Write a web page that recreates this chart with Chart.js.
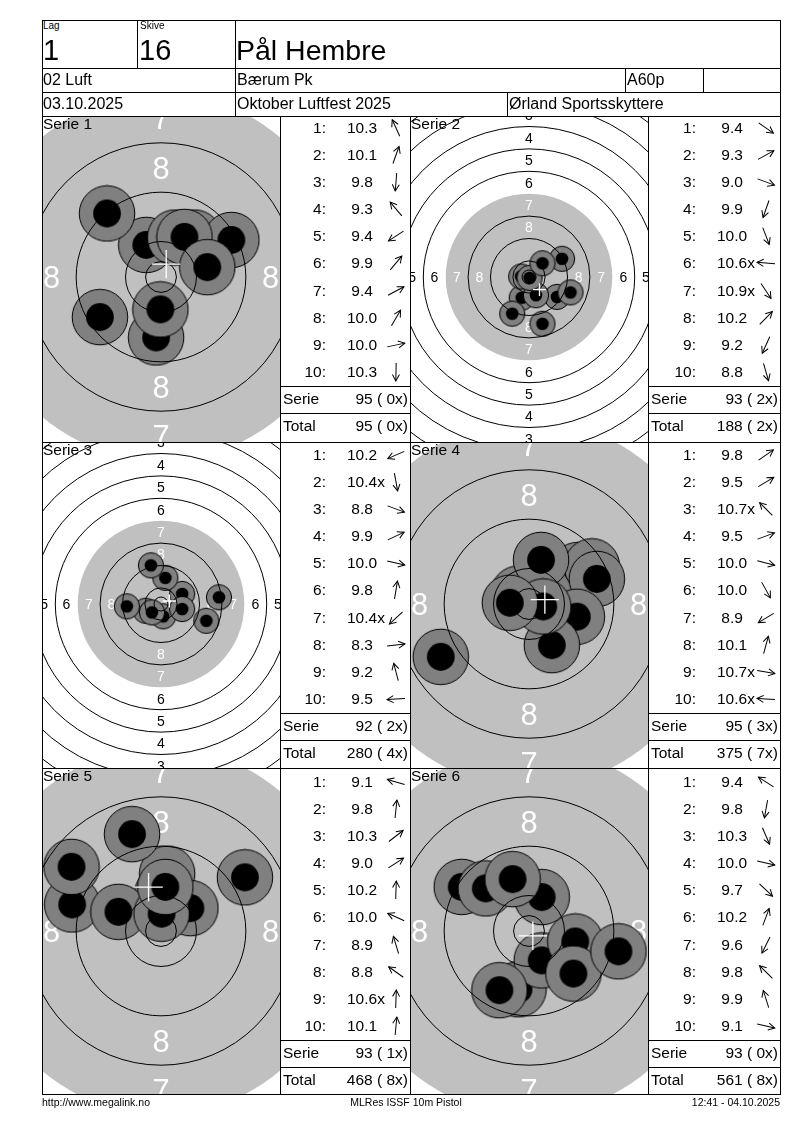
<!DOCTYPE html>
<html><head><meta charset="utf-8">
<script src="https://cdn.jsdelivr.net/npm/chart.js@4.4.1/dist/chart.umd.min.js"></script>
<style>
html,body{margin:0;padding:0;background:#fff;}
body{width:800px;height:1130px;position:relative;overflow:hidden;font-family:"Liberation Sans",Arial,sans-serif;color:#000;}
.hl{position:absolute;height:1px;background:#000;z-index:5;}
.vl{position:absolute;width:1px;background:#000;z-index:5;}
.t{position:absolute;white-space:pre;z-index:6;}
canvas{position:absolute;z-index:1;}
svg{position:absolute;z-index:6;overflow:visible;}
</style></head><body>
<script>
// ---------------- DATA ----------------
const lagLabel = 'Lag', lagValue = '1';
const skiveLabel = 'Skive', skiveValue = '16';
const shooterName = 'Pål Hembre';
const headerRow2 = ['02 Luft', 'Bærum Pk', 'A60p', ''];
const headerRow3 = ['03.10.2025', 'Oktober Luftfest 2025', 'Ørland Sportsskyttere'];
const footerTexts = ['http://www.megalink.no', 'MLRes ISSF 10m Pistol', '12:41 - 04.10.2025'];

const serieNames = ['Serie 1', 'Serie 2', 'Serie 3', 'Serie 4', 'Serie 5', 'Serie 6'];

// shot positions in mm from target centre (x right, y up)
const serie1X = [-2.4, 2.3, -0.8, -8.75, -9.9, 5.4, 11.4, 3.8, 7.5, -0.1];
const serie1Y = [5.2, 6.4, -9.8, 10.3, -6.5, 6.4, 6.0, 6.5, 1.6, -5.25];
const serie2X = [10.0, 11.8, 14.8, -2.6, 2.5, -2.8, 0.2, 4.8, -6.0, 4.8];
const serie2Y = [-7.1, 6.5, -5.5, -7.4, -6.5, 0.2, -0.3, 4.9, -13.1, -16.7];
const serie3X = [-5.5, 0.8, 16.2, 7.55, 7.55, 1.56, -3.24, 20.7, -3.6, -12.2];
const serie3Y = [-2.4, -4.4, -6.0, 3.6, -1.8, 9.35, -3.0, 2.4, 13.8, -0.84];
const serie4X = [7.9, 10.2, -1.7, 11.0, 7.75, 3.7, -14.3, 1.95, 2.3, -3.1];
const serie4Y = [5.5, 6.1, 1.7, 4.07, -2.06, -6.67, -8.56, 7.15, -0.4, 0.2];
const serie5X = [-14.4, 1.0, 4.77, 13.6, 0.2, -6.9, -4.7, -14.5, 0.1, 0.7];
const serie5Y = [4.3, 9.3, 3.7, 8.7, 6.0, 3.1, 15.7, 10.4, 2.8, 7.15];
const serie6X = [-10.9, -1.7, 2.06, 7.5, 7.2, 2.06, -4.8, -7.0, -2.66, 14.5];
const serie6Y = [7.15, -9.45, -4.77, -1.7, -6.9, 5.5, -9.6, 6.9, 8.4, -3.3];

const serie1Scores = ['10.3', '10.1', '9.8', '9.3', '9.4', '9.9', '9.4', '10.0', '10.0', '10.3'];
const serie2Scores = ['9.4', '9.3', '9.0', '9.9', '10.0', '10.6x', '10.9x', '10.2', '9.2', '8.8'];
const serie3Scores = ['10.2', '10.4x', '8.8', '9.9', '10.0', '9.8', '10.4x', '8.3', '9.2', '9.5'];
const serie4Scores = ['9.8', '9.5', '10.7x', '9.5', '10.0', '10.0', '8.9', '10.1', '10.7x', '10.6x'];
const serie5Scores = ['9.1', '9.8', '10.3', '9.0', '10.2', '10.0', '8.9', '8.8', '10.6x', '10.1'];
const serie6Scores = ['9.4', '9.8', '10.3', '10.0', '9.7', '10.2', '9.6', '9.8', '9.9', '9.1'];

const serieSums = ['95 ( 0x)', '93 ( 2x)', '92 ( 2x)', '95 ( 3x)', '93 ( 1x)', '93 ( 0x)'];
const serieTotals = ['95 ( 0x)', '188 ( 2x)', '280 ( 4x)', '375 ( 7x)', '468 ( 8x)', '561 ( 8x)'];
const ringNumbers = [1, 2, 3, 4, 5, 6, 7, 8];

// ---------------- LAYOUT / STYLE ----------------
const targetZoom = [6.17, 2.8, 2.8, 6.17, 6.17, 6.17]; // px per mm
const seriesX = [serie1X, serie2X, serie3X, serie4X, serie5X, serie6X];
const seriesY = [serie1Y, serie2Y, serie3Y, serie4Y, serie5Y, serie6Y];
const seriesScores = [serie1Scores, serie2Scores, serie3Scores, serie4Scores, serie5Scores, serie6Scores];

const FONT = '"Liberation Sans", Arial, sans-serif';
const BG_GRAY = '#c0c0c0', SHOT_GRAY = '#808080';
const panelTop = [116, 442, 768], panelH = 326, rowH = panelH / 12;
const rowShift = [-2, -1, 0];
const tgtLeft = [42, 410], tgtW = 238;
const tblLeft = [280, 648], tblW = [130, 132];

function hl(x, y, w) { const d = document.createElement('div'); d.className = 'hl'; d.style.left = x + 'px'; d.style.top = Math.round(y) + 'px'; d.style.width = w + 'px'; document.body.appendChild(d); }
function vl(x, y, h) { const d = document.createElement('div'); d.className = 'vl'; d.style.left = x + 'px'; d.style.top = y + 'px'; d.style.height = h + 'px'; document.body.appendChild(d); }
function txt(x, yc, s, fs, align) {
  const d = document.createElement('div'); d.className = 't';
  d.textContent = s; d.style.fontSize = fs + 'px'; d.style.lineHeight = '40px';
  d.style.top = (yc - 20) + 'px'; d.style.height = '40px';
  if (align === 'right') { d.style.right = (800 - x) + 'px'; d.style.textAlign = 'right'; }
  else if (align === 'center') { d.style.left = (x - 200) + 'px'; d.style.width = '400px'; d.style.textAlign = 'center'; }
  else d.style.left = x + 'px';
  document.body.appendChild(d); return d;
}

// frame and header grid
hl(42, 20, 739); hl(42, 1094, 739); vl(42, 20, 1075); vl(780, 20, 1075);
hl(42, 68, 739); hl(42, 92, 739); hl(42, 116, 739);
vl(137, 20, 48); vl(235, 20, 48);
vl(235, 68, 24); vl(625, 68, 24); vl(703, 68, 24);
vl(235, 92, 24); vl(507, 92, 24);
hl(42, 442, 739); hl(42, 768, 739);
vl(280, 116, 978); vl(410, 116, 978); vl(648, 116, 978);

txt(43, 26, lagLabel, 10); txt(140, 26, skiveLabel, 10);
txt(43, 50, lagValue, 29); txt(139, 50, skiveValue, 29); txt(236, 50, shooterName, 28.5);
const r2x = [43, 237, 627, 705];
headerRow2.forEach((s, i) => txt(r2x[i], 80, s, 16));
const r3x = [43, 237, 509];
headerRow3.forEach((s, i) => txt(r3x[i], 104, s, 16));
txt(42, 1102, footerTexts[0], 10.5);
txt(406, 1102, footerTexts[1], 10.5, 'center');
txt(780, 1102, footerTexts[2], 10.5, 'right');

function ringRadius(n) { return 5.75 + 8 * (10 - n); }

const targetPlugin = {
  id: 'target',
  beforeDatasetsDraw(chart) {
    const { ctx, chartArea: a, scales: { x, y } } = chart;
    const cx = x.getPixelForValue(0), cy = y.getPixelForValue(0);
    const k = x.getPixelForValue(1) - cx;
    ctx.save();
    ctx.beginPath(); ctx.rect(a.left, a.top, a.right - a.left, a.bottom - a.top); ctx.clip();
    ctx.fillStyle = '#fff'; ctx.fillRect(a.left, a.top, a.right - a.left, a.bottom - a.top);
    ctx.fillStyle = BG_GRAY; ctx.beginPath(); ctx.arc(cx, cy, ringRadius(7) * k, 0, 2 * Math.PI); ctx.fill();
    const fs = 5 * k;
    ctx.font = fs + 'px ' + FONT; ctx.textAlign = 'center'; ctx.textBaseline = 'alphabetic';
    ringNumbers.forEach(n => {
      const r = (ringRadius(n) - 4) * k;
      ctx.fillStyle = n >= 7 ? '#fff' : '#000';
      const off = 0.358 * fs;
      ctx.fillText(String(n), cx, cy - r + off);
      ctx.fillText(String(n), cx, cy + r + off);
      ctx.fillText(String(n), cx - r, cy + off);
      ctx.fillText(String(n), cx + r, cy + off);
    });
    ctx.restore();
  },
  afterDatasetsDraw(chart) {
    const { ctx, chartArea: a, scales: { x, y } } = chart;
    const cx = x.getPixelForValue(0), cy = y.getPixelForValue(0);
    const k = x.getPixelForValue(1) - cx;
    ctx.save();
    ctx.beginPath(); ctx.rect(a.left, a.top, a.right - a.left, a.bottom - a.top); ctx.clip();
    ctx.strokeStyle = '#000'; ctx.lineWidth = 1;
    const radii = [1, 2, 3, 4, 5, 6, 8, 9, 10].map(ringRadius).concat([2.5]);
    radii.forEach(r => { ctx.beginPath(); ctx.arc(cx, cy, r * k, 0, 2 * Math.PI); ctx.stroke(); });
    // mean point of impact cross
    const pts = chart.data.datasets[0].data;
    const mx = pts.reduce((s, p) => s + p.x, 0) / pts.length;
    const my = pts.reduce((s, p) => s + p.y, 0) / pts.length;
    const px = x.getPixelForValue(mx), py = y.getPixelForValue(my);
    const L = 2.3 * k;
    ctx.strokeStyle = '#fff'; ctx.lineWidth = 1.3;
    ctx.beginPath(); ctx.moveTo(px - L, py); ctx.lineTo(px + L, py); ctx.moveTo(px, py - L); ctx.lineTo(px, py + L); ctx.stroke();
    ctx.restore();
  }
};

function makeMarker(k) {
  const R = 4.5 * k, r = 2.25 * k;
  const size = Math.ceil(2 * R + 2);
  const c = document.createElement('canvas'); c.width = c.height = size;
  const g = c.getContext('2d');
  g.beginPath(); g.arc(size / 2, size / 2, R, 0, 2 * Math.PI);
  g.fillStyle = SHOT_GRAY; g.fill(); g.lineWidth = 1; g.strokeStyle = '#000'; g.stroke();
  g.beginPath(); g.arc(size / 2, size / 2, r, 0, 2 * Math.PI); g.fillStyle = '#000'; g.fill();
  return c;
}

function arrow(xc, yc, deg) {
  const ns = 'http://www.w3.org/2000/svg';
  const s = document.createElementNS(ns, 'svg');
  s.setAttribute('width', 22); s.setAttribute('height', 22);
  s.style.left = (xc - 11) + 'px'; s.style.top = (yc - 11) + 'px';
  const g = document.createElementNS(ns, 'g');
  g.setAttribute('transform', 'translate(11,11) rotate(' + (-deg) + ')');
  g.setAttribute('stroke', '#000'); g.setAttribute('stroke-width', '1'); g.setAttribute('fill', 'none');
  const l = document.createElementNS(ns, 'line');
  l.setAttribute('x1', -9); l.setAttribute('y1', 0); l.setAttribute('x2', 9); l.setAttribute('y2', 0);
  const p = document.createElementNS(ns, 'polyline');
  p.setAttribute('points', '2.5,-3.5 9,0 2.5,3.5');
  g.appendChild(l); g.appendChild(p); s.appendChild(g); document.body.appendChild(s);
}

for (let i = 0; i < 6; i++) {
  const row = Math.floor(i / 2), col = i % 2;
  const top = panelTop[row], sh = rowShift[row];
  // target chart
  const cv = document.createElement('canvas');
  cv.width = tgtW; cv.height = panelH;
  cv.style.left = tgtLeft[col] + 'px'; cv.style.top = top + 'px';
  cv.style.width = tgtW + 'px'; cv.style.height = panelH + 'px';
  document.body.appendChild(cv);
  const k = targetZoom[i];
  const hw = (tgtW / 2) / k;
  const yMin = -(panelH / 2 - sh) / k, yMax = (panelH / 2 + sh) / k;
  const data = seriesX[i].map((v, j) => ({ x: v, y: seriesY[i][j] }));
  new Chart(cv, {
    type: 'scatter',
    data: { datasets: [{ data, pointStyle: makeMarker(k), pointRadius: 4.5 * k, pointHoverRadius: 4.5 * k, clip: false }] },
    options: {
      responsive: false, animation: false, events: [], devicePixelRatio: 1,
      layout: { padding: 0, autoPadding: false },
      plugins: { legend: { display: false }, tooltip: { enabled: false } },
      scales: {
        x: { type: 'linear', min: -hw, max: hw, display: false },
        y: { type: 'linear', min: yMin, max: yMax, display: false }
      }
    },
    plugins: [targetPlugin]
  });
  txt(tgtLeft[col] + 1, top + 7.5, serieNames[i], 15.5);

  // table
  const tl = tblLeft[col], tw = tblW[col], tr = tl + tw;
  const tt = top + sh;
  for (let j = 0; j < 10; j++) {
    const yc = tt + rowH * (j + 0.5);
    txt(tr - 84, yc, (j + 1) + ':', 15.5, 'right');
    const sc = seriesScores[i][j];
    txt(tr - 63, yc, (parseFloat(sc) < 10 ? ' ' : '') + sc, 15.5);
    const ang = Math.atan2(seriesY[i][j], seriesX[i][j]) * 180 / Math.PI;
    arrow(tr - 14, yc, ang);
  }
  hl(tl, tt + rowH * 10, tw + 1);
  hl(tl, tt + rowH * 11, tw + 1);
  txt(tl + 3, tt + rowH * 10.5, 'Serie', 15.5);
  txt(tr - 2, tt + rowH * 10.5, serieSums[i], 15.5, 'right');
  txt(tl + 3, tt + rowH * 11.5, 'Total', 15.5);
  txt(tr - 2, tt + rowH * 11.5, serieTotals[i], 15.5, 'right');
}
</script>
</body></html>
